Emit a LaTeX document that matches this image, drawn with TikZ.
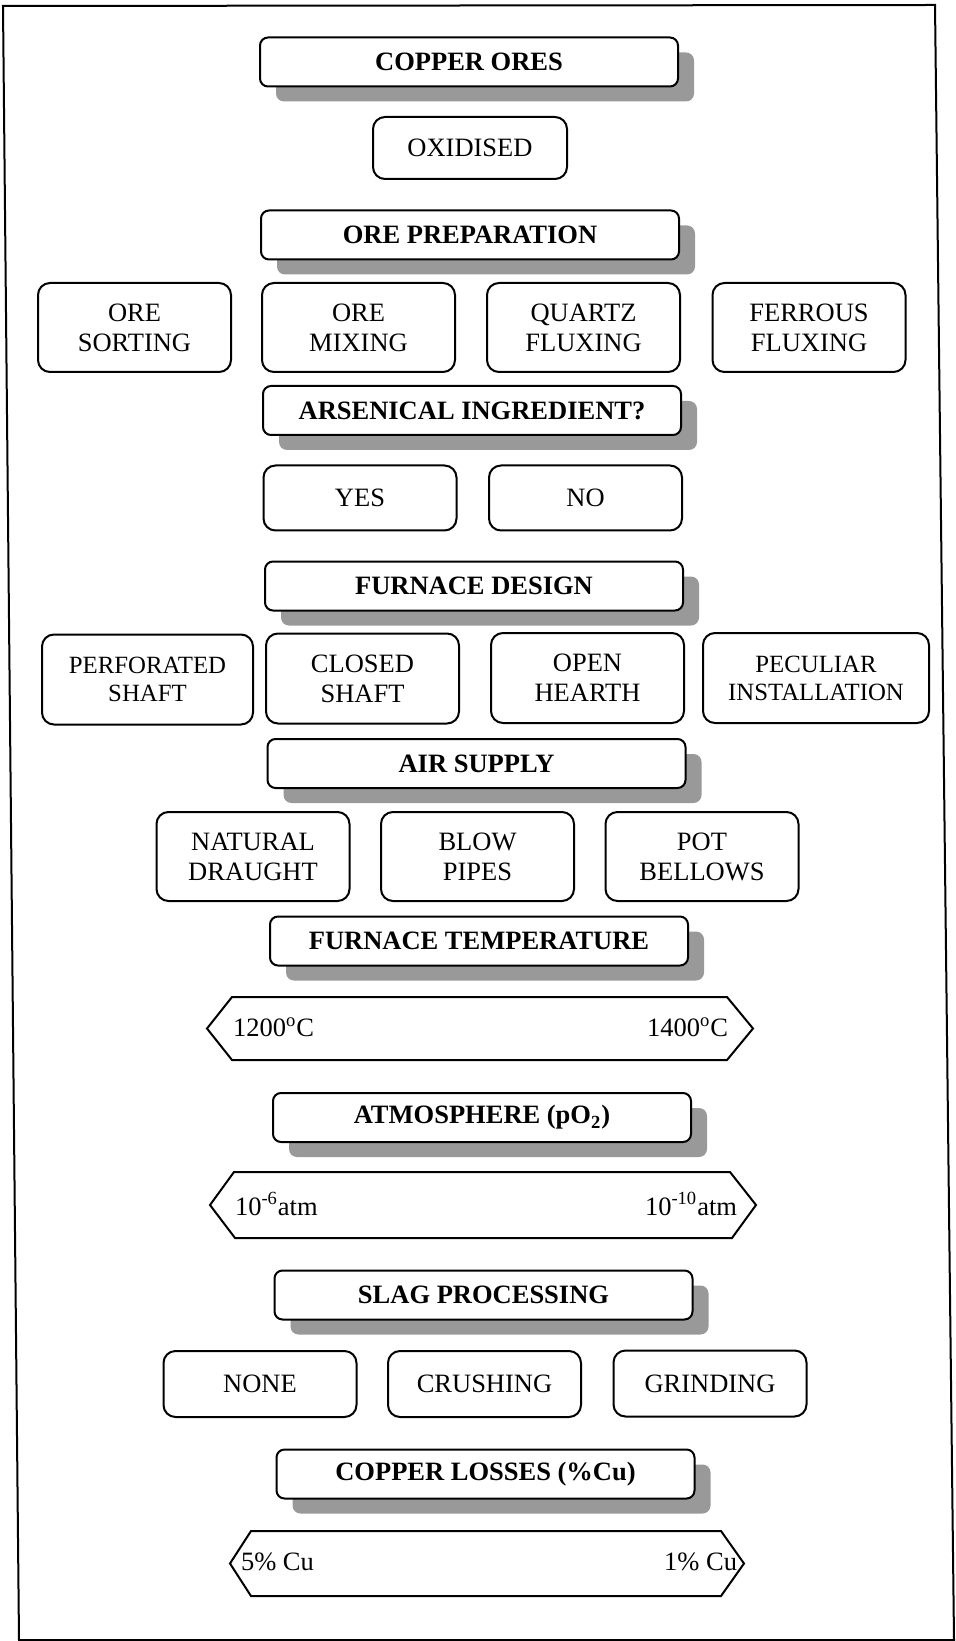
\documentclass[tikz,border=0pt]{standalone}
\usepackage{fontspec}
\setmainfont{Liberation Serif}
\usetikzlibrary{shadows}

\begin{document}
\begin{tikzpicture}[x=0.5pt, y=-0.5pt, line width=1pt]
\tikzset{every node/.style={font=\fontsize{13.25}{15}\selectfont, align=center, inner sep=0pt}}
\tikzset{headbox/.style={draw, fill=white, rounded corners=4pt, minimum width=209pt, minimum height=24.5pt,
  font=\fontsize{13.25}{15}\selectfont\bfseries,
  drop shadow={shadow xshift=8pt, shadow yshift=-7.5pt, fill=black!40, opacity=1}}}
\tikzset{optbox/.style={draw, fill=white, rounded corners=6pt, minimum width=96.5pt, minimum height=44.5pt}}
\tikzset{onebox/.style={optbox, minimum height=32.5pt}}

\useasboundingbox (0,0) rectangle (956,1641);
\draw (3,6) -- (935,5) -- (954,1640) -- (19,1640) -- cycle;

% ores and preparation
\node[headbox] (cuores) at (469,62) {COPPER ORES};
\node[optbox, minimum width=97pt, minimum height=31pt] (oxidised) at (470,148) {OXIDISED};
\node[headbox] (oreprep) at (470,235) {ORE PREPARATION};
\node[optbox] (oresort) at (134.5,327.5) {ORE\\SORTING};
\node[optbox] (oremix) at (358.5,327.5) {ORE\\MIXING};
\node[optbox] (quartz) at (583.5,327.5) {QUARTZ\\FLUXING};
\node[optbox] (ferrous) at (809,327.5) {FERROUS\\FLUXING};

\node[headbox] (arsenic) at (472,410.5) {ARSENICAL INGREDIENT?};
\node[onebox] (yes) at (360,498) {YES};
\node[onebox] (no) at (585.5,498) {NO};

% furnace
\node[headbox] (furnace) at (474,586) {FURNACE DESIGN};
\node[optbox, minimum width=105.5pt, minimum height=45pt, font=\fontsize{12.4}{14}\selectfont] (perfshaft) at (147.5,679.5) {PERFORATED\\SHAFT};
\node[optbox, minimum height=45pt] (closedshaft) at (362.5,678.5) {CLOSED\\SHAFT};
\node[optbox, minimum height=45pt] (openhearth) at (587.5,678) {OPEN\\HEARTH};
\node[optbox, minimum width=113pt, minimum height=45pt, font=\fontsize{12.4}{14}\selectfont] (peculiar) at (816,678) {PECULIAR\\INSTALLATION};

\node[headbox] (airsupply) at (476.5,763.5) {AIR SUPPLY};
\node[optbox] (natural) at (253,856.5) {NATURAL\\DRAUGHT};
\node[optbox] (blowpipes) at (477.5,856.5) {BLOW\\PIPES};
\node[optbox] (potbellows) at (702,856.5) {POT\\BELLOWS};

% temperature range
\node[headbox] (furntemp) at (479,941) {FURNACE TEMPERATURE};
\draw (207,1028.5) -- (232,997) -- (727,997) -- (753,1028.5) -- (727,1060) -- (232,1060) -- cycle;
\node[anchor=west] (tlow) at (232,1027) {1200\textsuperscript{o}C};
\node[anchor=east] (thigh) at (729,1027) {1400\textsuperscript{o}C};

% atmosphere range
\node[headbox] (atmos) at (482,1117.5) {ATMOSPHERE (pO\textsubscript{2})};
\draw (210,1205) -- (234,1172) -- (730,1172) -- (756,1205) -- (732,1238) -- (235,1238) -- cycle;
\node[anchor=west] (plow) at (234,1204) {10\textsuperscript{-6}atm};
\node[anchor=east] (phigh) at (738,1204) {10\textsuperscript{-10}atm};

% slag
\node[headbox] (slag) at (483.5,1295) {SLAG PROCESSING};
\node[optbox, minimum height=33pt] (none) at (260,1384) {NONE};
\node[optbox, minimum height=33pt] (crushing) at (484.5,1384) {CRUSHING};
\node[optbox, minimum height=33pt] (grinding) at (710,1383.5) {GRINDING};

% losses range
\node[headbox] (losses) at (485.5,1474) {COPPER LOSSES (\%Cu)};
\draw (230,1563.5) -- (251,1531) -- (721,1531) -- (744,1563.5) -- (721,1596) -- (251,1596) -- cycle;
\node[anchor=west] (cuhigh) at (240,1562) {5\% Cu};
\node[anchor=east] (culow) at (738,1562) {1\% Cu};

\end{tikzpicture}
\end{document}
